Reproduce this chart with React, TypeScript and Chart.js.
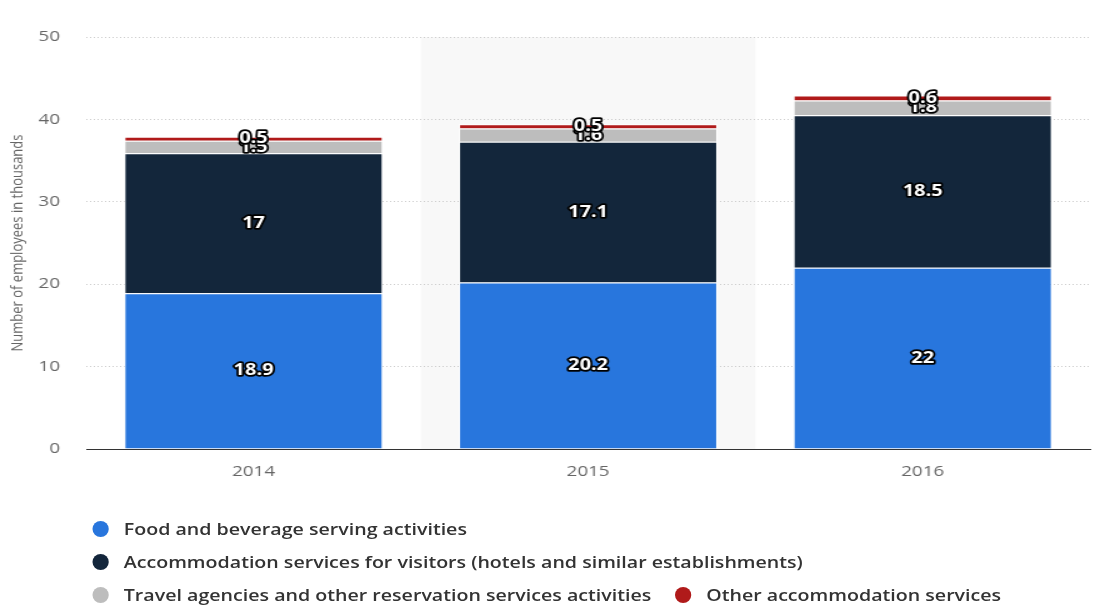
import React, { useEffect, useRef } from "react";
import { Chart, registerables } from "chart.js";

Chart.register(...registerables);

const years = ["2014", "2015", "2016"];
const foodBeverage = [18.9, 20.2, 22];
const accommodationVisitors = [17, 17.1, 18.5];
const travelAgencies = [1.5, 1.6, 1.8];
const otherAccommodation = [0.5, 0.5, 0.6];
const seriesNames = [
  "Food and beverage serving activities",
  "Accommodation services for visitors (hotels and similar establishments)",
  "Travel agencies and other reservation services activities",
  "Other accommodation services",
];
const seriesColors = ["#2876dd", "#13263b", "#bdbdbd", "#b01a1a"];
const highlightIndex = 1;

const FONT = "'Open Sans', 'DejaVu Sans', sans-serif";
const STRETCH = 1.25;
const W = Math.round(1103 / STRETCH);

const bandPlugin = {
  id: "band",
  beforeDraw(chart: any) {
    const area = chart.chartArea;
    const w = (area.right - area.left) / years.length;
    const ctx = chart.ctx;
    ctx.save();
    ctx.fillStyle = "#f8f8f8";
    ctx.fillRect(area.left + w * highlightIndex, area.top, w, area.bottom - area.top);
    ctx.restore();
  },
};

const labelPlugin = {
  id: "valueLabels",
  afterDatasetsDraw(chart: any) {
    const ctx = chart.ctx;
    ctx.save();
    ctx.font = `bold 16px ${FONT}`;
    ctx.textAlign = "center";
    ctx.textBaseline = "middle";
    ctx.lineJoin = "round";
    chart.data.datasets.forEach((ds: any, di: number) => {
      const meta = chart.getDatasetMeta(di);
      meta.data.forEach((bar: any, i: number) => {
        const v = ds.data[i];
        const y = (bar.y + bar.base) / 2;
        const t = String(v);
        ctx.strokeStyle = "#000";
        ctx.lineWidth = 3.5;
        ctx.strokeText(t, bar.x, y);
        ctx.fillStyle = "#fff";
        ctx.fillText(t, bar.x, y);
      });
    });
    ctx.restore();
  },
};

export default function App() {
  const ref = useRef<HTMLCanvasElement | null>(null);
  useEffect(() => {
    if (!ref.current) return;
    const data = [foodBeverage, accommodationVisitors, travelAgencies, otherAccommodation];
    const chart = new Chart(ref.current, {
      type: "bar",
      data: {
        labels: years,
        datasets: data.map((d, i) => ({
          label: seriesNames[i],
          data: d,
          backgroundColor: seriesColors[i],
          borderColor: "#ffffff",
          borderWidth: 1,
          categoryPercentage: 1,
          barPercentage: 0.773,
        })),
      },
      options: {
        animation: false,
        responsive: false,
        maintainAspectRatio: false,
        layout: { padding: { left: 6, top: 37, right: 10, bottom: 0 } },
        plugins: { legend: { display: false }, tooltip: { enabled: false } },
        scales: {
          x: {
            stacked: true,
            grid: { display: false, drawTicks: false },
            border: { display: true, color: "#333", width: 1 },
            ticks: { color: "#666", font: { family: FONT, size: 15 }, padding: 14 },
            afterFit(scale: any) {
              scale.height = 51;
            },
          },
          y: {
            stacked: true,
            min: 0,
            max: 50,
            ticks: { stepSize: 10, color: "#666", font: { family: FONT, size: 15 }, padding: 21 },
            grid: { color: "#cccccc", drawTicks: false, lineWidth: 1 },
            border: { display: false, dash: [1, 2] },
            title: {
              display: true,
              text: "Number of employees in thousands",
              color: "#666",
              font: { family: FONT, size: 13 },
              padding: 0,
            },
            afterFit(scale: any) {
              scale.width = 63;
            },
          },
        },
      },
      plugins: [bandPlugin, labelPlugin],
    } as any);
    return () => chart.destroy();
  }, []);

  const legendRows = [[0], [1], [2, 3]];
  return (
    <div style={{ position: "absolute", left: 0, top: 0, width: 1103, height: 605, background: "#fff", overflow: "hidden" }}>
      <div
        style={{
          position: "absolute",
          left: 0,
          top: 0,
          width: W,
          height: 605,
          transform: `scaleX(${STRETCH})`,
          transformOrigin: "0 0",
        }}
      >
        <canvas ref={ref} width={W} height={500} style={{ display: "block" }} />
        {legendRows.map((row, ri) => (
          <div
            key={ri}
            style={{
              position: "absolute",
              left: 74,
              top: 529 + ri * 33 - 12,
              height: 24,
              display: "flex",
              alignItems: "center",
              fontFamily: FONT,
              fontWeight: 600,
              fontSize: 15.7,
              color: "#333",
              whiteSpace: "nowrap",
            }}
          >
            {row.map((si) => (
              <span key={si} style={{ display: "flex", alignItems: "center", marginRight: 19 }}>
                <span
                  style={{
                    width: 13,
                    height: 16,
                    borderRadius: "50%",
                    background: seriesColors[si],
                    display: "inline-block",
                    marginRight: 12,
                  }}
                />
                {seriesNames[si]}
              </span>
            ))}
          </div>
        ))}
      </div>
    </div>
  );
}
